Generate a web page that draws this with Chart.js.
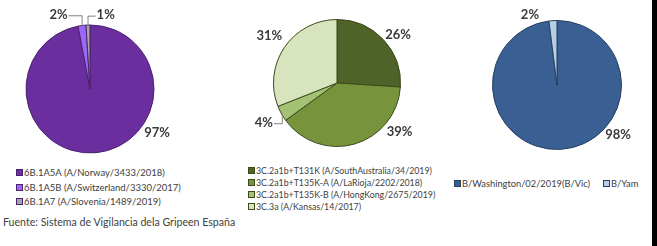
<!DOCTYPE html>
<html>
<head>
<meta charset="utf-8">
<script src="https://cdn.jsdelivr.net/npm/chart.js@4.4.1/dist/chart.umd.min.js"></script>
<style>
  html, body { margin: 0; padding: 0; background: #fff; }
  body { width: 657px; height: 246px; position: relative; overflow: hidden; font-family: Lato, "Open Sans", sans-serif; color: #404040; }
  canvas { position: absolute; top: 0; }
  .legend { position: absolute; }
  .item { position: absolute; white-space: nowrap; line-height: 1; }
  .box { display: inline-block; width: 5px; height: 5px; border: 1px solid #555; margin-right: 1px; vertical-align: 0px; }
  #note { position: absolute; left: 3px; top: 216px; font-size: 10.6px; white-space: nowrap; }
  #edge { position: absolute; left: 652px; top: 0; width: 5px; height: 246px; background: #000; }
</style>
</head>
<body>
<canvas id="pieH1"></canvas>
<canvas id="pieH3"></canvas>
<canvas id="pieB"></canvas>
<div id="legH1" class="legend"></div>
<div id="legH3" class="legend"></div>
<div id="legB" class="legend"></div>
<div id="note">Fuente: Sistema de Vigilancia dela Gripeen España</div>
<div id="edge"></div>
<script>
const h1Labels = ["6B.1A5A (A/Norway/3433/2018)", "6B.1A5B (A/Switzerland/3330/2017)", "6B.1A7 (A/Slovenia/1489/2019)"];
const h1Values = [97, 2, 1];
const h3Labels = ["3C.2a1b+T131K (A/SouthAustralia/34/2019)", "3C.2a1b+T135K-A (A/LaRioja/2202/2018)", "3C.2a1b+T135K-B (A/HongKong/2675/2019)", "3C.3a (A/Kansas/14/2017)"];
const h3Values = [26, 39, 4, 31];
const bLabels = ["B/Washington/02/2019(B/Vic)", "B/Yam"];
const bValues = [98, 2];

const h1Colors = ["#6B2E9F", "#9A68F5", "#A6A6A6"];
const h3Colors = ["#4F6228", "#77933C", "#A3C274", "#D7E4BD"];
const bColors = ["#3A6093", "#B9CDE5"];

// where each percentage sits: angle clockwise from 12 o'clock, distance as a share of the radius
const h1Place = [{ a: 123, d: 1.25 }, { a: 337, d: 1.26, lead: true }, { a: 12, d: 1.18, lead: true }];
const h3Place = [{ a: 52, d: 1.22 }, { a: 128, d: 1.25 }, { a: 241.5, d: 1.31, lead: true }, { a: 305, d: 1.3 }];
const bPlace = [{ a: 129, d: 1.22 }, { a: 339, d: 1.17 }];

const pctLabels = {
  id: "pctLabels",
  afterDatasetsDraw(chart, args, opts) {
    const ctx = chart.ctx;
    const meta = chart.getDatasetMeta(0);
    const values = chart.data.datasets[0].data;
    ctx.save();
    ctx.font = "bold 13px Lato, sans-serif";
    ctx.textAlign = "center";
    ctx.textBaseline = "middle";
    meta.data.forEach((arc, i) => {
      const p = arc.getProps(["x", "y", "outerRadius", "startAngle", "endAngle"], true);
      const place = opts.place[i];
      const ang = (place.a - 90) * Math.PI / 180;
      const lx = p.x + Math.cos(ang) * p.outerRadius * place.d;
      const ly = p.y + Math.sin(ang) * p.outerRadius * place.d;
      const text = values[i] + "%";
      ctx.fillStyle = "#3a3a3a";
      ctx.fillText(text, lx, ly);
      if (place.lead) {
        const mid = (p.startAngle + p.endAngle) / 2;
        const ex = p.x + Math.cos(mid) * (p.outerRadius - 1);
        const ey = p.y + Math.sin(mid) * (p.outerRadius - 1);
        const half = ctx.measureText(text).width / 2 + 1;
        const sx = lx < ex ? lx + half : lx - half;
        ctx.strokeStyle = "#808080";
        ctx.lineWidth = 1;
        ctx.beginPath();
        ctx.moveTo(sx, ly + 1);
        ctx.lineTo(ex, ly + 1);
        ctx.lineTo(ex, ey);
        ctx.stroke();
      }
    });
    ctx.restore();
  }
};

function makePie(id, left, width, cx, cy, r, labels, values, colors, border, place) {
  const canvas = document.getElementById(id);
  const height = 160;
  canvas.style.left = left + "px";
  canvas.style.width = width + "px";
  canvas.style.height = height + "px";
  canvas.width = width;
  canvas.height = height;
  const lx = cx - left;
  return new Chart(canvas, {
    type: "pie",
    data: {
      labels,
      datasets: [{ data: values, backgroundColor: colors, borderColor: border, borderWidth: 1 }]
    },
    options: {
      responsive: false,
      animation: false,
      layout: { padding: { left: lx - r, right: width - lx - r, top: cy - r, bottom: height - cy - r } },
      plugins: {
        legend: { display: false },
        tooltip: { enabled: false },
        pctLabels: { place }
      }
    },
    plugins: [pctLabels]
  });
}

function renderLegend(chart, id, spots, fontSize) {
  const holder = document.getElementById(id);
  const ds = chart.data.datasets[0];
  holder.innerHTML = chart.data.labels.map((label, i) => `
    <div class="item" style="left:${spots[i][0]}px;top:${spots[i][1]}px;font-size:${fontSize}px">
      <span class="box" style="background:${ds.backgroundColor[i]};border-color:${ds.borderColor}"></span>${label}
    </div>`).join("");
}

const h1Chart = makePie("pieH1", 0, 220, 90, 89, 64.5, h1Labels, h1Values, h1Colors, "#4A2070", h1Place);
const h3Chart = makePie("pieH3", 220, 220, 337, 83, 64, h3Labels, h3Values, h3Colors, "#3A4A1C", h3Place);
const bChart = makePie("pieB", 440, 212, 557, 85, 65, bLabels, bValues, bColors, "#243F60", bPlace);

renderLegend(h1Chart, "legH1", [[16, 168], [16, 183], [16, 197]], 9.5);
renderLegend(h3Chart, "legH3", [[248, 166.5], [248, 179], [248, 191], [248, 202.5]], 8.8);
renderLegend(bChart, "legB", [[454, 178.5], [603, 178.5]], 9.3);
</script>
</body>
</html>
